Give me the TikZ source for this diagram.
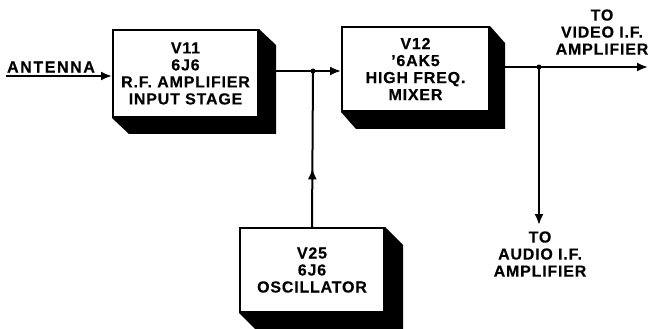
\documentclass[tikz,border=0pt]{standalone}
\usepackage{fontspec}
\setmainfont{Liberation Sans}[LetterSpace=5, BoldFeatures={FakeBold=0.3}]
\usetikzlibrary{arrows.meta,backgrounds,calc,decorations.markings}
\begin{document}
\begin{tikzpicture}[x=1pt,y=-1pt,
  lbl/.style={font=\bfseries\fontsize{16}{17}\selectfont, align=center, inner sep=0pt},
  blockbox/.style={lbl, draw, fill=white, line width=2pt},
  wire/.style={line width=2pt},
  arr/.style={wire, -{Latex[length=11pt,width=9pt]}},
  midarr/.style={wire, postaction={decorate}, decoration={markings, mark=at position #1 with {\arrow{Latex[length=11pt,width=9pt]}}}},
  shade/.style={fill=black}]
\useasboundingbox (0,0) rectangle (649,329);

% blocks
\node[blockbox, minimum width=145pt, minimum height=87pt] (b1) at (185.5,73.5)
  {V11\\6J6\\R.F. AMPLIFIER\\INPUT STAGE};
\node[blockbox, minimum width=147pt, minimum height=84pt] (b2) at (415.5,69)
  {V12\\\textquoteright6AK5\\HIGH FREQ.\\MIXER};
\node[blockbox, minimum width=144pt, minimum height=84pt] (b3) at (312,270)
  {V25\\6J6\\OSCILLATOR};

% extruded shadows
\begin{scope}[on background layer]
  \foreach \b/\dx/\dy in {b1/17/16, b2/15/17, b3/18/18} {
    \fill[shade] (\b.north east) -- ++(\dx,\dy) -- ($(\b.south east)+(\dx,\dy)$)
      -- ($(\b.south west)+(\dx,\dy)$) -- (\b.south west) -- (\b.south east) -- cycle;
  }
\end{scope}

% coordinates
\coordinate (ant) at (6,76);
\coordinate (j1) at (313,71);
\coordinate (j2) at (539,67);
\coordinate (vend) at (648,67);
\coordinate (aend) at (539,225);

% labels
\node[lbl, font=\bfseries\fontsize{16}{17}\selectfont\addfontfeature{LetterSpace=10}] (antlbl) at (51,67) {ANTENNA};
\node[lbl] (vlbl) at (602,32) {TO\\VIDEO I.F.\\AMPLIFIER};
\node[lbl] (albl) at (540,254) {TO\\AUDIO I.F.\\AMPLIFIER};

% connectors
\draw[arr] (ant) -- (b1.west |- ant);
\draw[wire] (b1.east |- j1) -- (j1);
\draw[arr] (j1) -- (b2.west |- j1);
\draw[midarr=0.38] (b3.north |- 0,228) -- (j1);
\draw[wire] (b2.east |- j2) -- (j2);
\draw[arr] (j2) -- (vend);
\draw[arr] (j2) -- (aend);

% junction dots
\fill (j1) circle (2.5pt);
\fill (j2) circle (2.5pt);
\end{tikzpicture}
\end{document}
